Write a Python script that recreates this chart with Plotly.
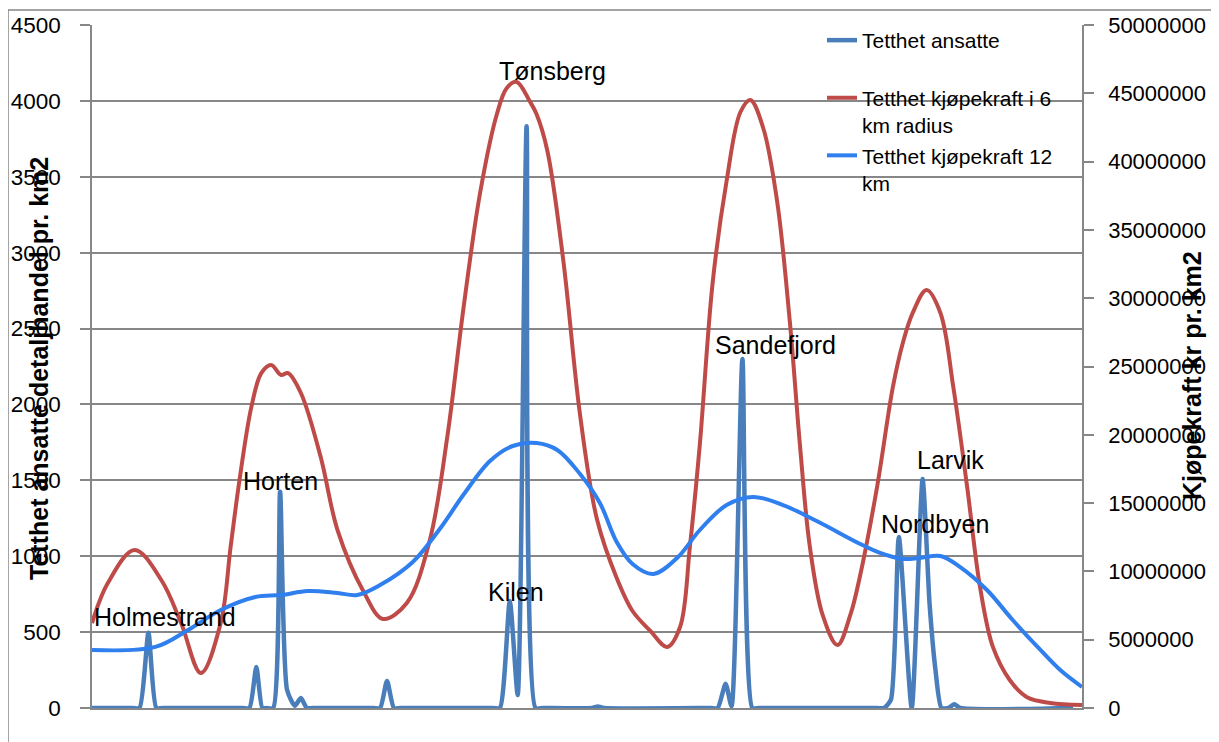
import plotly.graph_objects as go

# ---------------- data ----------------
# position along the coast (0 = left end, 100 = right end)
pos_ansatte = [0, 4.1, 4.8, 5.7, 6.5, 7.2, 15.2, 15.9, 16.6, 17.2, 17.6, 18.3, 19.0, 19.7,
               20.5, 21.1, 21.7, 22.3, 28.4, 29.1, 29.8, 30.5, 31.2, 40.5, 41.2, 42.2, 43.0,
               43.9, 44.8, 45.6, 50.5, 51.1, 51.7, 62.5, 63.2, 64.0, 64.6, 65.7, 66.7, 67.4,
               79.3, 80.0, 80.7, 81.5, 82.8, 83.9, 84.6, 85.2, 85.8, 86.5, 87.1, 87.7, 99.1]
ansatte = [0, 0, 0, 495, 0, 0, 0, 0, 270, 0, 0, 0, 1425, 120,
           15, 66, 0, 0, 0, 0, 178, 0, 0, 0, 0, 705, 85,
           3833, 0, 0, 0, 10, 0, 0, 0, 160, 10, 2300, 0, 0,
           0, 0, 55, 1127, 0, 1508, 690, 250, 0, 0, 25, 0, 0]

pos_kjop6 = [0, 1.6, 4.3, 7.0, 9.0, 11.0, 13.0, 14.0, 14.9, 16.1, 17.1, 18.1, 19.1, 19.8,
             21.1, 23.1, 24.8, 27.4, 29.4, 31.8, 34.1, 35.9, 37.5, 39.2, 40.9, 41.9, 42.9,
             44.2, 44.9, 46.0, 47.6, 49.3, 51.0, 53.0, 54.6, 56.4, 58.1, 59.4, 60.4, 61.4,
             62.7, 64.1, 65.5, 66.5, 67.8, 69.2, 70.5, 71.5, 72.5, 73.8, 75.3, 76.6, 77.6,
             79.3, 80.9, 81.9, 82.9, 84.3, 85.7, 87.0, 88.4, 89.7, 91.0, 92.7, 94.4, 96.8, 100]
kjop6 = [6.22, 9.15, 11.57, 9.37, 6.22, 2.56, 6.22, 11.79, 16.69, 22.04, 24.52, 25.11, 24.38, 24.52,
         23.06, 18.37, 13.03, 8.57, 6.52, 7.69, 12.23, 19.91, 29.14, 37.70, 43.48, 45.39, 45.83,
         44.44, 43.48, 40.78, 32.80, 21.45, 13.84, 9.52, 7.10, 5.64, 4.47, 5.93, 11.86, 19.33,
         31.19, 38.58, 43.63, 44.51, 42.46, 37.12, 28.18, 19.33, 11.86, 6.81, 4.61, 6.81, 9.74,
         16.18, 23.50, 26.72, 28.92, 30.60, 28.92, 23.50, 16.18, 8.86, 4.47, 2.05, 0.81, 0.37, 0.22]

pos_kjop12 = [0, 6.4, 9.7, 13.0, 16.5, 19.1, 21.8, 24.8, 26.8, 29.1, 32.4, 35.2, 37.5, 40.2,
              42.5, 44.9, 47.0, 49.3, 51.3, 53.0, 54.6, 56.7, 59.1, 61.4, 64.1, 66.8, 69.8,
              73.2, 77.6, 79.6, 81.9, 83.6, 85.7, 87.7, 90.4, 93.0, 95.8, 97.8, 100]
kjop12 = [4.25, 4.47, 5.71, 7.17, 8.13, 8.27, 8.57, 8.42, 8.27, 9.00, 10.69, 13.18, 15.59, 18.08,
          19.18, 19.40, 18.89, 17.13, 15.01, 12.15, 10.54, 9.81, 10.98, 13.03, 14.86, 15.45, 14.86,
          13.69, 12.01, 11.35, 10.91, 10.98, 11.13, 10.32, 8.64, 6.44, 4.25, 2.78, 1.54]

# place names (data labels) : position along coast and level on left axis
places = ["Holmestrand", "Horten", "Tønsberg", "Kilen", "Sandefjord", "Larvik", "Nordbyen"]
place_pos = [7.4, 19.0, 46.5, 42.8, 69.0, 86.7, 85.2]
place_level = [600, 1496, 4197, 764, 2392, 1634, 1212]

series_names = ["Tetthet ansatte<br> ", "Tetthet kjøpekraft i 6<br>km radius",
                "Tetthet kjøpekraft 12<br>km"]
left_title = "Tetthet ansatte detaljhandel pr. km2"
right_title = "Kjøpekraft kr pr. km2"

# ---------------- figure ----------------
GRID = "#878787"
FONT = "Liberation Sans"
# the page body has an 8px margin; plot area spans page x 92..1082, y 25..708
PW, PH = 990, 683


def px(xp):
    return (xp - 92) / PW


def py(yp):
    return (708 - yp) / PH


fig = go.Figure()
fig.add_trace(go.Scatter(
    x=pos_ansatte, y=ansatte, name=series_names[0], mode="lines", yaxis="y",
    line=dict(color="#4A7EBB", width=4.5, shape="spline", smoothing=0.6), cliponaxis=False))
fig.add_trace(go.Scatter(
    x=pos_kjop6, y=[v * 1e6 for v in kjop6], name=series_names[1], mode="lines", yaxis="y2",
    line=dict(color="#BE4B48", width=4, shape="spline", smoothing=1.0), cliponaxis=False))
fig.add_trace(go.Scatter(
    x=pos_kjop12, y=[v * 1e6 for v in kjop12], name=series_names[2], mode="lines", yaxis="y2",
    line=dict(color="#2F7FEE", width=4, shape="spline", smoothing=1.0), cliponaxis=False))

annotations = []
for name, p, lv in zip(places, place_pos, place_level):
    annotations.append(dict(x=p, y=lv, xref="x", yref="y", text=name, showarrow=False,
                            font=dict(family=FONT, size=25, color="black")))
annotations.append(dict(x=px(23), y=py(369), xref="paper", yref="paper", text="<b>" + left_title + "</b>",
                        textangle=-90, showarrow=False, font=dict(family=FONT, size=25, color="black")))
annotations.append(dict(x=px(1208), y=py(376), xref="paper", yref="paper", text="<b>" + right_title + "</b>",
                        textangle=-90, showarrow=False, font=dict(family=FONT, size=25, color="black")))

fig.update_layout(
    width=1211, height=734,
    margin=dict(l=84, r=137, t=17, b=34, autoexpand=False),
    paper_bgcolor="white", plot_bgcolor="white",
    font=dict(family=FONT, size=22, color="black"),
    showlegend=True,
    legend=dict(x=px(822), y=py(20), xanchor="left", yanchor="top",
                bgcolor="rgba(0,0,0,0)", font=dict(family=FONT, size=21, color="black"),
                valign="top", tracegroupgap=0, itemwidth=30),
    xaxis=dict(range=[0, 100], showticklabels=False, showgrid=False, zeroline=False,
               showline=True, linecolor=GRID, linewidth=1.5, ticks=""),
    yaxis=dict(range=[0, 4500], tick0=0, dtick=500, ticks="outside", ticklen=10,
               tickcolor=GRID, tickwidth=1.5, showline=True, linecolor=GRID, linewidth=1.5,
               showgrid=True, gridcolor=GRID, gridwidth=1.5, zeroline=False,
               tickfont=dict(family=FONT, size=22.5, color="black"), ticklabelstandoff=15),
    yaxis2=dict(range=[0, 50e6], tick0=0, dtick=5e6, tickformat="d", overlaying="y", side="right",
                ticks="outside", ticklen=10, tickcolor=GRID, tickwidth=1.5, showline=True,
                linecolor=GRID, linewidth=1.5, showgrid=False, zeroline=False,
                tickfont=dict(family=FONT, size=22, color="black"), ticklabelstandoff=10),
    annotations=annotations,
    shapes=[dict(type="rect", xref="paper", yref="paper",
                 x0=px(8), x1=px(1217), y0=py(760), y1=py(10),
                 line=dict(color=GRID, width=1.5), layer="below")],
    hovermode=False,
)

fig.write_html("out.html")
